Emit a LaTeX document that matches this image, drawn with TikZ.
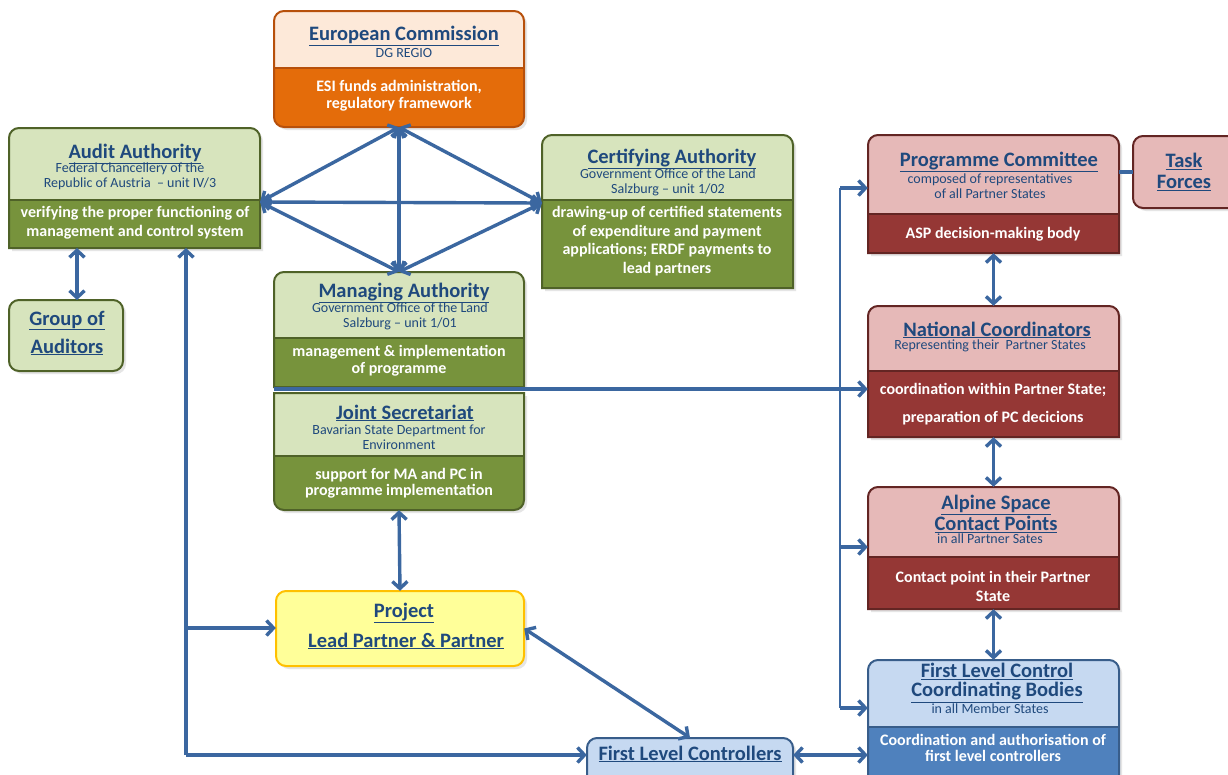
\documentclass[tikz,border=0pt]{standalone}
\usepackage{fontspec}
\setmainfont{Carlito}
\usetikzlibrary{arrows.meta,fit,calc}
\definecolor{tblue}{HTML}{1F497D}
\definecolor{ablue}{HTML}{3B67A0}
\definecolor{gTop}{HTML}{D7E4BD}
\definecolor{gBot}{HTML}{77933C}
\definecolor{gBrd}{HTML}{4F6228}
\definecolor{oTop}{HTML}{FDE9D9}
\definecolor{oBot}{HTML}{E46C0A}
\definecolor{oBrd}{HTML}{B7500B}
\definecolor{rTop}{HTML}{E6B9B8}
\definecolor{rBot}{HTML}{953735}
\definecolor{rBrd}{HTML}{632523}
\definecolor{bTop}{HTML}{C6D9F1}
\definecolor{bBot}{HTML}{4F81BD}
\definecolor{bBrd}{HTML}{385D8A}
\definecolor{yFill}{HTML}{FFFF99}
\definecolor{yBrd}{HTML}{FFC000}
\newcommand\myul[1]{\underline{#1}}
% outlines: #1 options, #2 x1, #3 y1, #4 x2, #5 y2
\newcommand\pathT[5]{\path[#1] (#4,{(#3+#5)/2}) [rounded corners=10pt] -- (#4,#3) -- (#2,#3) -- (#2,{(#3+#5)/2}) [sharp corners] -- (#2,#5) -- (#4,#5) -- cycle;}
\newcommand\pathB[5]{\path[#1] (#2,{(#3+#5)/2}) [rounded corners=10pt] -- (#2,#5) -- (#4,#5) -- (#4,{(#3+#5)/2}) [sharp corners] -- (#4,#3) -- (#2,#3) -- cycle;}
\newcommand\pathA[5]{\path[#1,rounded corners=10pt] (#2,#3) rectangle (#4,#5);}
% two-part box: #1 path, #2 x1, #3 y1, #4 x2, #5 ysplit, #6 y2, #7 top, #8 bottom, #9 border
\newcommand\twobox[9]{%
  #1{fill=black!10,xshift=3pt,yshift=-3pt}{#2}{#3}{#4}{#6}
  \begin{scope}#1{clip}{#2}{#3}{#4}{#6}
    \fill[#7] (#2,#3) rectangle (#4,#5);
    \fill[#8] (#2,#5) rectangle (#4,#6);
  \end{scope}
  \draw[#9,line width=2pt] (#2,#5) -- (#4,#5);
  #1{draw=#9,line width=2pt}{#2}{#3}{#4}{#6}}
\newcommand\onebox[7]{%
  #1{fill=black!10,xshift=3pt,yshift=-3pt}{#2}{#3}{#4}{#5}
  #1{fill=#6,draw=#7,line width=2pt}{#2}{#3}{#4}{#5}}
\begin{document}
\begin{tikzpicture}[x=1pt,y=-1pt,
  >={Straight Barb[length=7pt,width=15pt]},
  ttl/.style={font=\fontsize{20.5}{#1}\selectfont\bfseries,text=tblue,inner sep=0pt,align=center},
  ttl/.default=24,
  sub/.style={font=\fontsize{14}{15}\selectfont,text=tblue,inner sep=0pt,align=center},
  btx/.style={font=\fontsize{16}{#1}\selectfont\bfseries,text=white,inner sep=0pt,align=center},
  btx/.default=18.5,
  frame/.style={inner sep=0pt},
  arr/.style={draw=ablue,line width=3.4pt},
  vline/.style={draw=ablue,line width=2.2pt}]
\useasboundingbox (0,0) rectangle (1228,774);
\fill[white] (0,0) rectangle (1228,774);

% ---- boxes ----
\twobox{\pathA}{274}{11}{524}{68}{127}{oTop}{oBot}{oBrd}
\twobox{\pathT}{9}{128}{260}{200}{248}{gTop}{gBot}{gBrd}
\twobox{\pathT}{542}{135}{793}{200}{288}{gTop}{gBot}{gBrd}
\twobox{\pathT}{274}{272}{524}{338}{387}{gTop}{gBot}{gBrd}
\twobox{\pathB}{274}{393}{524}{456}{510}{gTop}{gBot}{gBrd}
\twobox{\pathT}{868}{135}{1119}{214}{253}{rTop}{rBot}{rBrd}
\twobox{\pathT}{868}{306}{1119}{371}{437}{rTop}{rBot}{rBrd}
\twobox{\pathT}{868}{487}{1119}{557}{609}{rTop}{rBot}{rBrd}
\twobox{\pathT}{868}{660}{1119}{727}{800}{bTop}{bBot}{bBrd}
\onebox{\pathA}{9}{300}{123}{371}{gTop}{gBrd}
\onebox{\pathA}{276}{591}{524}{666}{yFill}{yBrd}
\onebox{\pathA}{1133}{136}{1250}{208}{rTop}{rBrd}
\onebox{\pathA}{587}{738}{793}{790}{bTop}{bBrd}

% ---- named frames ----
\node[frame,fit={(274,11)(524,127)}] (ec) {};
\node[frame,fit={(9,128)(260,248)}] (aa) {};
\node[frame,fit={(542,135)(793,288)}] (ca) {};
\node[frame,fit={(274,272)(524,387)}] (ma) {};
\node[frame,fit={(274,393)(524,510)}] (js) {};
\node[frame,fit={(9,300)(123,371)}] (ga) {};
\node[frame,fit={(276,591)(524,666)}] (pr) {};
\node[frame,fit={(868,135)(1119,253)}] (pc) {};
\node[frame,fit={(1133,136)(1228,208)}] (tf) {};
\node[frame,fit={(868,306)(1119,437)}] (nc) {};
\node[frame,fit={(868,487)(1119,609)}] (cp) {};
\node[frame,fit={(868,660)(1119,774)}] (cb) {};
\node[frame,fit={(587,738)(793,772)}] (fl) {};

% ---- texts ----
\node[ttl] (ecT) at (404,36) {\myul{European Commission}};
\node[sub] (ecS) at (404,53) {DG REGIO};
\node[btx=17] (ecB) at (399,96) {ESI funds administration,\\regulatory framework};

\node[ttl] (aaT) at (135,154) {\myul{Audit Authority}};
\node[sub] (aaS) at (130,176) {Federal Chancellery of the\\Republic of Austria \ – unit IV/3};
\node[btx=19] (aaB) at (135,223) {verifying the proper functioning of\\management and control system};

\node[ttl=28] (gaT) at (67,333) {\myul{Group of}\\\myul{Auditors}};

\node[ttl] (caT) at (672,159) {\myul{Certifying Authority}};
\node[sub] (caS) at (668,182.5) {Government Office of the Land\\Salzburg – unit 1/02};
\node[btx=18.7] (caB) at (667,241) {drawing-up of certified statements\\of expenditure and payment\\applications; ERDF payments to\\lead partners};

\node[ttl] (maT) at (404,293) {\myul{Managing Authority}};
\node[sub] (maS) at (400,316) {Government Office of the Land\\Salzburg – unit 1/01};
\node[btx=17] (maB) at (399,361) {management \& implementation\\of programme};

\node[ttl] (jsT) at (405,413) {\myul{Joint Secretariat}};
\node[sub] (jsS) at (399,437) {Bavarian State Department for\\Environment};
\node[btx=16.5] (jsB) at (399,483) {support for MA and PC in\\programme implementation};

\node[ttl] (prT) at (404,613) {\myul{Project}};
\node[ttl] (prL) at (406,641) {\myul{Lead Partner \& Partner}};

\node[ttl] (pcT) at (999,162) {\myul{Programme Committee}};
\node[sub] (pcS) at (990,186) {composed of representatives\\of all Partner States};
\node[btx] (pcB) at (993,234) {ASP decision-making body};

\node[ttl=21] (tfT) at (1184,172) {\myul{Task}\\\myul{Forces}};

\node[ttl] (ncT) at (997,330) {\myul{National Coordinators}};
\node[sub] (ncS) at (990,346) {Representing their \ Partner States};
\node[btx=28] (ncB) at (993,404) {coordination within Partner State;\\preparation of PC decicions};

\node[ttl=19] (cpT) at (996,514) {\myul{Alpine Space}\\\myul{Contact Points}};
\node[sub] (cpS) at (990,539) {in all Partner Sates};
\node[btx=19] (cpB) at (993,586) {Contact point in their Partner\\State};

\node[ttl=19] (cbT) at (997,683) {\myul{First Level Control}\\\myul{Coordinating Bodies}};
\node[sub] (cbS) at (990,709) {in all Member States};
\node[btx=16.5] (cbB) at (993,748) {Coordination and authorisation of\\first level controllers};

\node[ttl] (flT) at (690,754) {\myul{First Level Controllers}};

% ---- coordinates ----
\coordinate (aaR) at (260,202);
\coordinate (caL) at (542,203);
\coordinate (aaBot) at (77,248);
\coordinate (gaTop) at (77,300);
\coordinate (loopT) at (186,248);
\coordinate (loopM) at (186,628);
\coordinate (loopB) at (186,755);
\coordinate (maJS) at (274,389);
\coordinate (vT) at (840,188);
\coordinate (vM) at (840,547);
\coordinate (vB) at (840,708);

% ---- connectors ----
\draw[arr,<->] (ec.south) -- (aaR);
\draw[arr,<->] (ec.south) -- (caL);
\draw[arr,<->] (ec.south) -- (ma.north);
\draw[arr,<->] (aaR) -- (caL);
\draw[arr,<->] (aaR) -- (ma.north);
\draw[arr,<->] (caL) -- (ma.north);
\draw[arr,<->] (aaBot) -- (gaTop);
\draw[arr,->] (loopB) -- (loopT);
\draw[arr,->] (loopM) -- (pr.west |- loopM);
\draw[arr,->] (loopB) -- (fl.west |- loopB);
\draw[vline] (vB) -- (vT);
\draw[draw=ablue,line width=4.5pt] (maJS) -- ($(nc.west |- maJS)+(-8,0)$);
\draw[arr,->] (maJS) -- (nc.west |- maJS);
\draw[arr,->] (vT) -- (pc.west |- vT);
\draw[arr,->] (vM) -- (cp.west |- vM);
\draw[arr,->] (vB) -- (cb.west |- vB);
\draw[arr,<->] (pc.south) -- (nc.north);
\draw[arr,<->] (nc.south) -- (cp.north);
\draw[arr,<->] (cp.south) -- (cb.north);
\draw[arr,<->] (js.south) -- (pr.north);
\draw[arr,<->] (pr.east) -- (fl.north);
\draw[arr,<->] (fl.east) -- (cb.west |- fl.east);
\draw[arr] (pc.east |- tf.west) -- (tf.west);
\end{tikzpicture}
\end{document}
